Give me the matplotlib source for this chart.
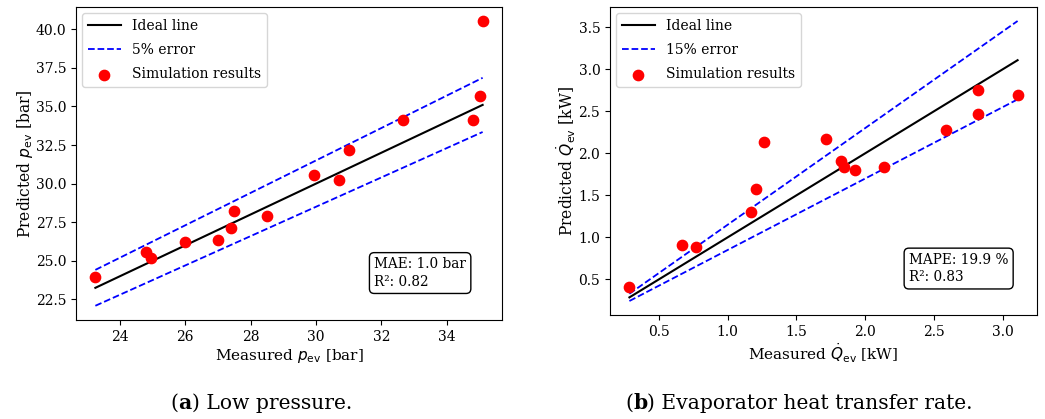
import numpy as np
import matplotlib
matplotlib.use("Agg")
import matplotlib.pyplot as plt

plt.rcParams['font.family'] = ['DejaVu Serif']
plt.rcParams['mathtext.fontset'] = 'dejavusans'

# ---- Data: (a) Low pressure ----
p_measured = [23.25, 24.81, 24.95, 25.99, 27.0, 27.41, 27.5, 28.5, 29.94, 30.72, 31.01, 32.67, 34.81, 35.01, 35.10]
p_predicted = [23.95, 25.55, 25.21, 26.25, 26.35, 27.13, 28.2, 27.91, 30.56, 30.21, 32.16, 34.15, 34.15, 35.67, 40.52]
p_err = 0.05
p_text = "MAE: 1.0 bar\nR²: 0.82"

# ---- Data: (b) Evaporator heat transfer rate ----
q_measured = [0.287, 0.67, 0.769, 1.169, 1.205, 1.263, 1.714, 1.823, 1.849, 1.924, 2.14, 2.586, 2.821, 2.821, 3.107]
q_predicted = [0.405, 0.91, 0.89, 1.304, 1.578, 2.131, 2.167, 1.905, 1.837, 1.805, 1.841, 2.283, 2.462, 2.756, 2.688]
q_err = 0.15
q_text = "MAPE: 19.9 %\nR²: 0.83"

W, H = 1045, 419
fig = plt.figure(figsize=(W / 100, H / 100), dpi=100)

def px_axes(l, r, t, b):
    return fig.add_axes([l / W, (H - b) / H, (r - l) / W, (b - t) / H])

ax1 = px_axes(76, 502, 7, 320)
ax2 = px_axes(610, 1037, 7, 315)

def panel(ax, xm, yp, err, errlabel, boxtext, xlabel, ylabel):
    xm = np.asarray(xm)
    yp = np.asarray(yp)
    xs = np.array([xm.min(), xm.max()])
    ax.plot(xs, xs, color='black', lw=1.5, label='Ideal line')
    ax.plot(xs, xs * (1 + err), color='blue', ls='--', lw=1.3, label=errlabel)
    ax.plot(xs, xs * (1 - err), color='blue', ls='--', lw=1.3)
    ax.scatter(xm, yp, color='red', s=55, zorder=3, label='Simulation results')
    ax.set_xlabel(xlabel, fontsize=11, labelpad=2)
    ax.set_ylabel(ylabel, fontsize=11.2, labelpad=0.5)
    ax.tick_params(labelsize=10)
    ax.legend(loc='upper left', fontsize=10, handlelength=2.4, labelspacing=0.74,
              borderaxespad=0.45)
    ax.text(0.70, 0.10, boxtext, transform=ax.transAxes, fontsize=9.8,
            ha='left', va='bottom', linespacing=1.3,
            bbox=dict(boxstyle='round,pad=0.35', facecolor='white', edgecolor='black'))

panel(ax1, p_measured, p_predicted, p_err, '5% error', p_text,
      r'Measured $p_{\mathrm{ev}}$ [bar]', r'Predicted $p_{\mathrm{ev}}$ [bar]')
panel(ax2, q_measured, q_predicted, q_err, '15% error', q_text,
      r'Measured $\dot{Q}_{\mathrm{ev}}$ [kW]', r'Predicted $\dot{Q}_{\mathrm{ev}}$ [kW]')

ax1.set_yticks([22.5, 25.0, 27.5, 30.0, 32.5, 35.0, 37.5, 40.0])
ax2.set_yticks([0.5, 1.0, 1.5, 2.0, 2.5, 3.0, 3.5])

# Captions with a bold letter
def caption(cx, baseline_y, letter, rest, fs=14.6):
    r = fig.canvas.get_renderer()
    parts = [("(", 'normal'), (letter, 'bold'), (") " + rest, 'normal')]
    texts = []
    for s, w in parts:
        t = fig.text(0, baseline_y / H, s, fontsize=fs, fontweight=w, va='baseline', ha='left')
        texts.append(t)
    fig.canvas.draw()
    widths = [t.get_window_extent(r).width for t in texts]
    total = sum(widths)
    x = cx - total / 2
    for t, w in zip(texts, widths):
        t.set_x(x / W)
        x += w

fig.canvas.draw()
caption(261, H - 409, 'a', 'Low pressure.')
caption(799, H - 409, 'b', 'Evaporator heat transfer rate.')

fig.savefig('out.png', dpi=100)
